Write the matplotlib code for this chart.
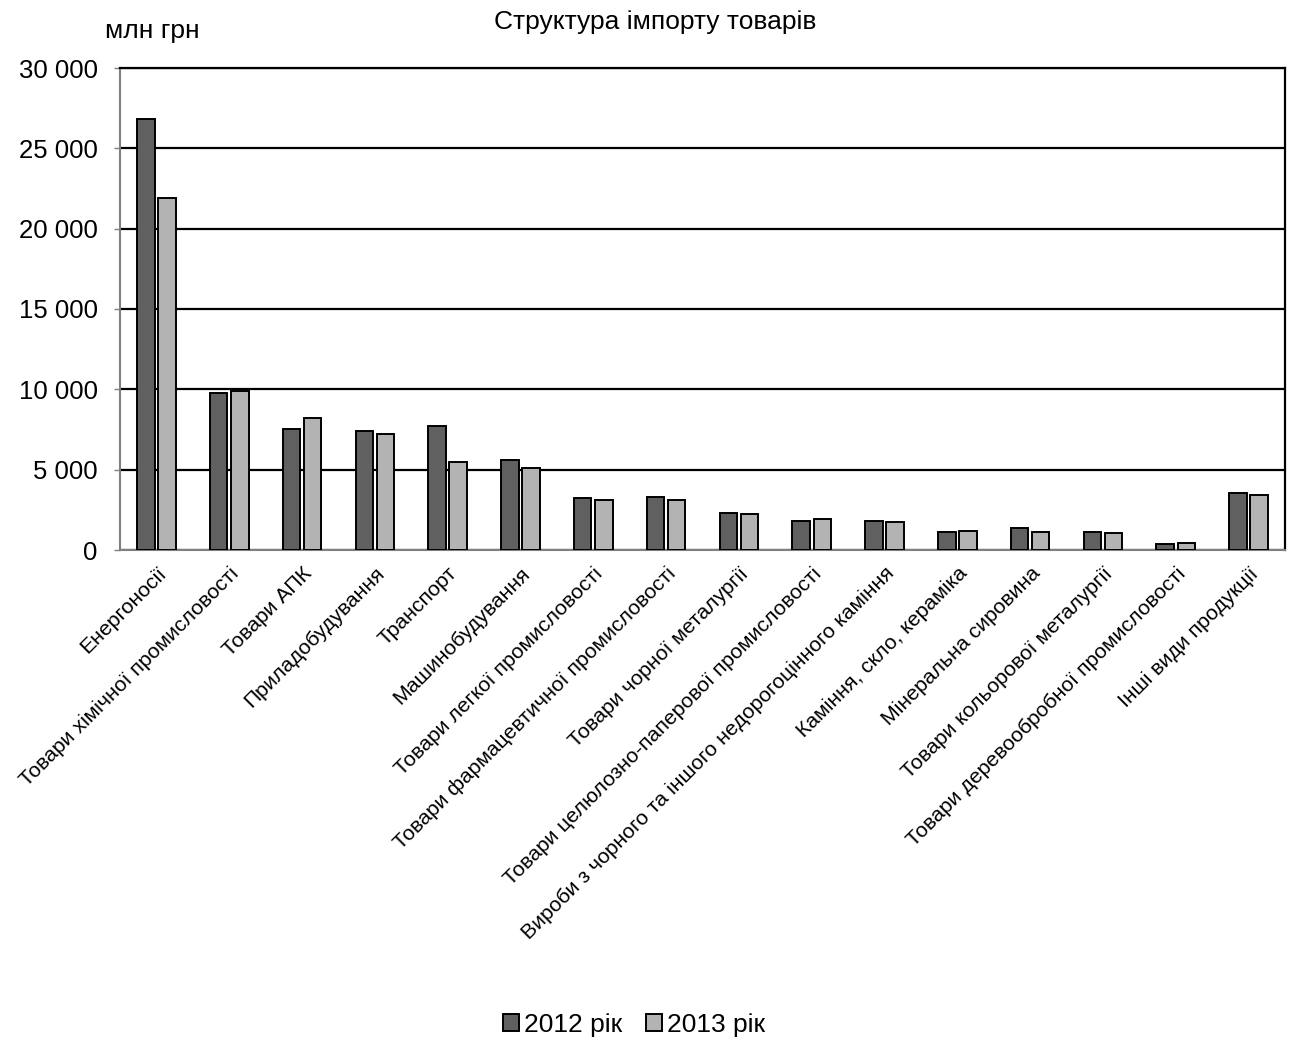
import matplotlib
matplotlib.use("Agg")
import matplotlib.pyplot as plt
import numpy as np

categories = [
    "Енергоносії",
    "Товари хімічної промисловості",
    "Товари АПК",
    "Приладобудування",
    "Транспорт",
    "Машинобудування",
    "Товари легкої промисловості",
    "Товари фармацевтичної промисловості",
    "Товари чорної металургії",
    "Товари целюлозно-паперової промисловості",
    "Вироби з чорного та іншого недорогоцінного каміння",
    "Каміння, скло, кераміка",
    "Мінеральна сировина",
    "Товари кольорової металургії",
    "Товари деревообробної промисловості",
    "Інші види продукції",
]
values_2012 = [26850, 9760, 7510, 7390, 7700, 5580, 3240, 3320, 2300, 1810, 1830, 1120, 1370, 1120, 390, 3550]
values_2013 = [21880, 9920, 8200, 7220, 5480, 5100, 3130, 3110, 2240, 1930, 1720, 1180, 1140, 1060, 440, 3440]
series_labels = ["2012 рік", "2013 рік"]
yticks = [0, 5000, 10000, 15000, 20000, 25000, 30000]
ytick_labels = ["0", "5 000", "10 000", "15 000", "20 000", "25 000", "30 000"]

plt.rcParams['font.family'] = ['Liberation Sans', 'DejaVu Sans']

fig = plt.figure(figsize=(12.91, 10.38), dpi=100)
ax = fig.add_axes([120/1291, 1 - 550/1038, (1285-120)/1291, (550-68)/1038])

x = np.arange(len(categories))
w = 0.24
off = 0.145
ax.bar(x - off, values_2012, w, color="#606060", edgecolor="black", linewidth=1.4,
       label=series_labels[0], zorder=3)
ax.bar(x + off, values_2013, w, color="#b3b3b3", edgecolor="black", linewidth=1.4,
       label=series_labels[1], zorder=3)

ax.set_xlim(-0.5, len(categories) - 0.5)
ax.set_ylim(0, 30000)
ax.set_yticks(yticks)
ax.set_yticklabels(ytick_labels, fontsize=18.5)
ax.yaxis.grid(True, color="black", linewidth=1.6, zorder=0)
ax.set_axisbelow(True)

ax.set_xticks(x)
ax.set_xticklabels(categories, rotation=45, ha="right", rotation_mode="anchor", fontsize=15.3)
ax.tick_params(axis="x", length=0, pad=10)
ax.tick_params(axis="y", length=4, width=1, color="#808080", pad=12)

for s in ["left", "bottom"]:
    ax.spines[s].set_color("#808080")
    ax.spines[s].set_linewidth(1.5)
ax.spines["right"].set_color("black")
ax.spines["right"].set_linewidth(1.6)
ax.spines["top"].set_color("black")
ax.spines["top"].set_linewidth(1.6)

fig.text(655/1291, 1 - 22/1038, "Структура імпорту товарів", ha="center", va="center", fontsize=19)
fig.text(152/1291, 1 - 31/1038, "млн грн", ha="center", va="center", fontsize=19)

leg = fig.legend(loc="center", bbox_to_anchor=(634/1291, 1 - 1025/1038), ncol=2, frameon=False,
                 fontsize=19, handlelength=0.6, handleheight=0.6, handletextpad=0.2,
                 columnspacing=0.9)

fig.savefig("out.png", dpi=100)
